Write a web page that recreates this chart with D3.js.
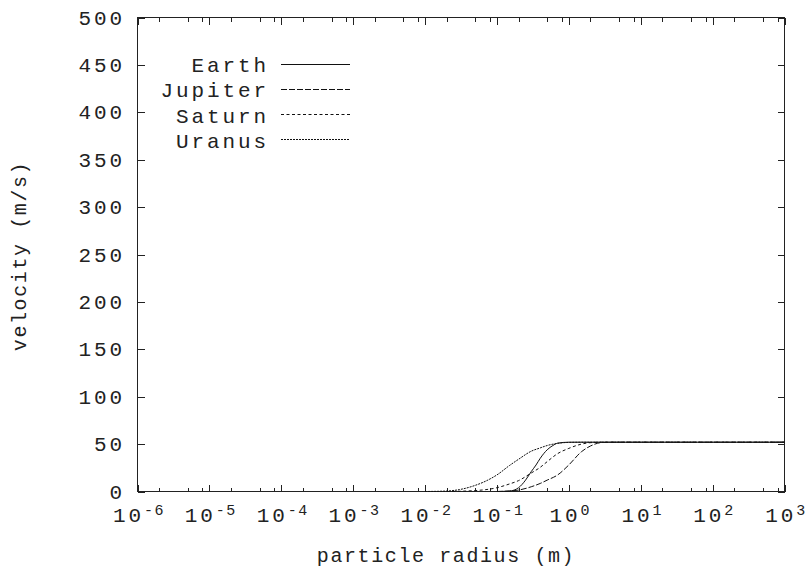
<!DOCTYPE html>
<html>
<head>
<meta charset="utf-8">
<script src="https://cdn.jsdelivr.net/npm/d3@7"></script>
<style>
  html, body { margin: 0; padding: 0; background: #fff; }
  svg { display: block; }
  text { font-family: "Liberation Mono", "Courier New", monospace; fill: #222; }
</style>
</head>
<body>
<svg id="chart" width="808" height="574"></svg>
<script>
// Velocity vs particle radius for four planets (radius in metres, velocity in m/s)
const earthRadius   = [0.1, 0.15, 0.2, 0.25, 0.3, 0.35, 0.4, 0.5, 0.6, 0.7, 1, 1.5, 1000];
const earthVelocity = [0, 0.5, 4, 12, 21, 28, 35, 44, 48.5, 51, 52, 52, 52];

const jupiterRadius   = [0.1, 0.15, 0.2, 0.3, 0.4, 0.5, 0.7, 1, 1.5, 2, 3, 5, 1000];
const jupiterVelocity = [0, 0.5, 1.5, 5, 8.5, 12, 17.5, 28, 42, 48, 51.8, 52, 52];

const saturnRadius   = [0.02, 0.05, 0.1, 0.15, 0.2, 0.3, 0.4, 0.5, 0.7, 1, 1.5, 2, 3, 1000];
const saturnVelocity = [0, 1, 4, 8, 11.5, 19.5, 25.5, 31.5, 40, 45.5, 50, 51.5, 52, 52];

const uranusRadius   = [0.01, 0.02, 0.03, 0.05, 0.07, 0.1, 0.15, 0.2, 0.3, 0.4, 0.5, 0.7, 1, 1.5, 1000];
const uranusVelocity = [0, 0.5, 2, 6.5, 11, 17.5, 27.5, 34, 42.5, 46, 48.5, 50.8, 51.8, 52, 52];

const seriesNames = ["Earth", "Jupiter", "Saturn", "Uranus"];
const seriesRadius = [earthRadius, jupiterRadius, saturnRadius, uranusRadius];
const seriesVelocity = [earthVelocity, jupiterVelocity, saturnVelocity, uranusVelocity];
const seriesDash = [null, "6,2", "3,2.5", "2,1"];

const xExponents = [-6, -5, -4, -3, -2, -1, 0, 1, 2, 3];
const yTicks = [0, 50, 100, 150, 200, 250, 300, 350, 400, 450, 500];
const minorMantissas = [2, 5, 8];

const xLabel = "particle radius (m)";
const yLabel = "velocity (m/s)";

const svg = d3.select("#chart");
const plotLeft = 137.5, plotRight = 784.5, plotTop = 17.5, plotBottom = 491.5;

const x = d3.scaleLog().domain([1e-6, 1e3]).range([plotLeft, plotRight]);
const y = d3.scaleLinear().domain([0, 500]).range([plotBottom, plotTop]);

const axisColor = "#222";
const tickFont = 21, tickLS = 2.9;

// frame
svg.append("rect")
  .attr("x", plotLeft).attr("y", plotTop)
  .attr("width", plotRight - plotLeft).attr("height", plotBottom - plotTop)
  .attr("fill", "none").attr("stroke", axisColor).attr("stroke-width", 1)
  .attr("shape-rendering", "crispEdges");

// x ticks (major + minor) on bottom and top, pointing inward
const ticksG = svg.append("g").attr("stroke", axisColor).attr("stroke-width", 1)
  .attr("shape-rendering", "crispEdges");
xExponents.forEach(e => {
  const px = Math.round(x(Math.pow(10, e))) + 0.5;
  ticksG.append("line").attr("x1", px).attr("x2", px).attr("y1", plotBottom).attr("y2", plotBottom - 7);
  ticksG.append("line").attr("x1", px).attr("x2", px).attr("y1", plotTop).attr("y2", plotTop + 7);
  if (e < 3) {
    minorMantissas.forEach(m => {
      const mx = Math.round(x(m * Math.pow(10, e))) + 0.5;
      ticksG.append("line").attr("x1", mx).attr("x2", mx).attr("y1", plotBottom).attr("y2", plotBottom - 4);
      ticksG.append("line").attr("x1", mx).attr("x2", mx).attr("y1", plotTop).attr("y2", plotTop + 4);
    });
  }
});
// y ticks on left and right
yTicks.forEach(v => {
  const py = Math.round(y(v)) + 0.5;
  ticksG.append("line").attr("x1", plotLeft).attr("x2", plotLeft + 7).attr("y1", py).attr("y2", py);
  ticksG.append("line").attr("x1", plotRight).attr("x2", plotRight - 7).attr("y1", py).attr("y2", py);
});

// y tick labels
svg.append("g").selectAll("text").data(yTicks).join("text")
  .attr("x", 122 + tickLS)
  .attr("y", d => y(d) + 7)
  .attr("text-anchor", "end")
  .attr("font-size", tickFont)
  .attr("letter-spacing", tickLS)
  .text(d => d);

// x tick labels: 10 with superscript exponent
const xl = svg.append("g").selectAll("text").data(xExponents).join("text")
  .attr("x", d => x(Math.pow(10, d)) + tickLS / 2)
  .attr("y", 522)
  .attr("text-anchor", "middle")
  .attr("font-size", tickFont)
  .attr("letter-spacing", tickLS);
xl.append("tspan").text("10");
xl.append("tspan").attr("font-size", 15).attr("letter-spacing", 1.5).attr("dy", -7)
  .text(d => String(d));

// axis titles
svg.append("text")
  .attr("x", 446).attr("y", 562)
  .attr("text-anchor", "middle")
  .attr("font-size", 20).attr("letter-spacing", 1.6)
  .text(xLabel);
svg.append("text")
  .attr("transform", "translate(26,256) rotate(-90)")
  .attr("text-anchor", "middle")
  .attr("font-size", 20).attr("letter-spacing", 1.6)
  .text(yLabel);

// curves
const line = d3.line()
  .x(d => x(d[0]))
  .y(d => y(d[1]))
  .curve(d3.curveMonotoneX);

const curves = svg.append("g");
seriesNames.forEach((name, i) => {
  const pts = seriesRadius[i].map((r, j) => [r, seriesVelocity[i][j]]);
  const p = curves.append("path")
    .attr("d", line(pts))
    .attr("fill", "none")
    .attr("stroke", "#111")
    .attr("stroke-width", 1);
  if (seriesDash[i]) p.attr("stroke-dasharray", seriesDash[i]);
});

// legend
const legendY = [63.5, 88.5, 114, 139];
const legend = svg.append("g");
seriesNames.forEach((name, i) => {
  legend.append("text")
    .attr("x", 266 + tickLS)
    .attr("y", legendY[i] + 8.5)
    .attr("text-anchor", "end")
    .attr("font-size", tickFont)
    .attr("letter-spacing", tickLS)
    .text(name);
  const l = legend.append("line")
    .attr("x1", 281).attr("x2", 350)
    .attr("y1", Math.round(legendY[i]) + 0.5).attr("y2", Math.round(legendY[i]) + 0.5)
    .attr("stroke", "#111").attr("stroke-width", 1);
  if (seriesDash[i]) l.attr("stroke-dasharray", seriesDash[i]);
});
</script>
</body>
</html>
